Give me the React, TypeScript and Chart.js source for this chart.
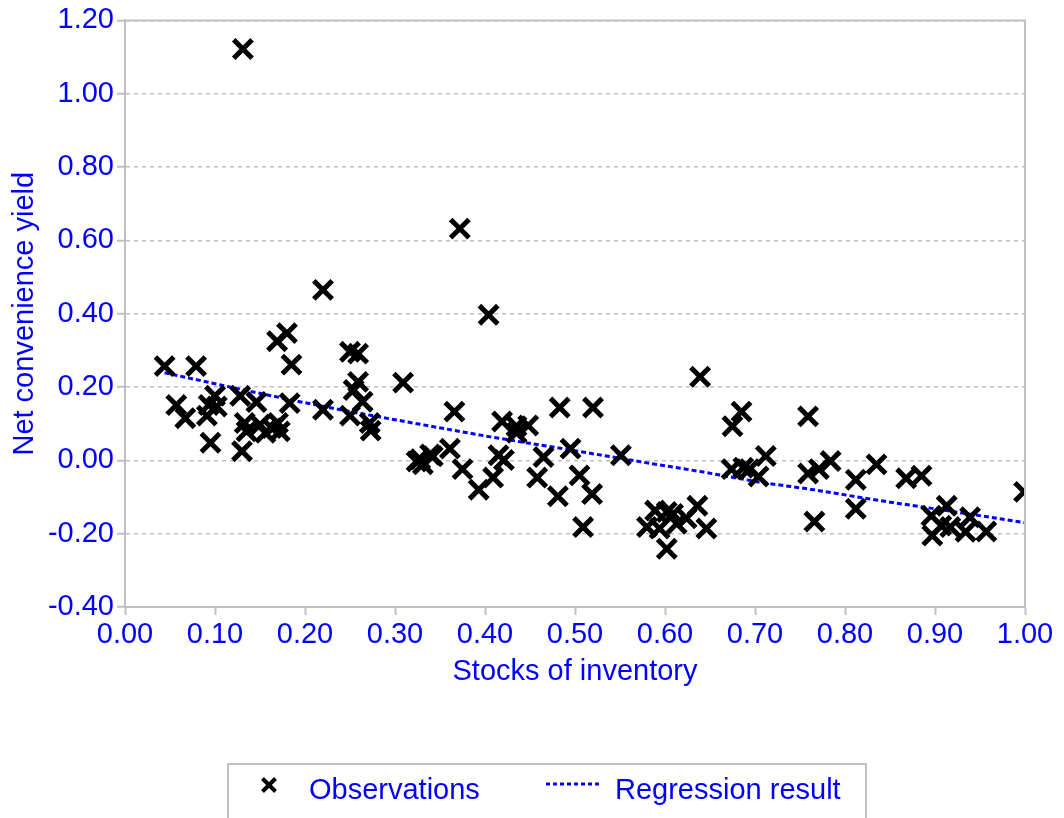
import React, { useEffect, useRef } from "react";
import { Chart, registerables } from "chart.js";

Chart.register(...registerables);

// ---------- data ----------
const obsX = [
  0.131, 0.220, 0.372, 0.404, 0.044, 0.079, 0.180, 0.169, 0.185, 0.250,
  0.259, 0.309, 0.057, 0.067, 0.100, 0.093, 0.102, 0.091, 0.095, 0.128,
  0.146, 0.130, 0.133, 0.135, 0.150, 0.156, 0.163, 0.170, 0.172, 0.183,
  0.220, 0.254, 0.259, 0.264, 0.250, 0.272, 0.273, 0.366, 0.419, 0.435,
  0.448, 0.435, 0.483, 0.520, 0.361, 0.328, 0.339, 0.331, 0.342, 0.324,
  0.375, 0.393, 0.409, 0.415, 0.421, 0.458, 0.465, 0.481, 0.495, 0.505,
  0.519, 0.509, 0.551, 0.639, 0.685, 0.675, 0.712, 0.674, 0.687, 0.694,
  0.704, 0.759, 0.759, 0.771, 0.784, 0.766, 0.812, 0.812, 0.835, 0.868,
  0.885, 0.913, 0.896, 0.897, 0.907, 0.917, 0.939, 0.934, 0.957, 0.999,
  0.589, 0.602, 0.609, 0.624, 0.636, 0.580, 0.594, 0.613, 0.646, 0.602,
];
const obsY = [
  1.122, 0.465, 0.632, 0.397, 0.257, 0.257, 0.347, 0.325, 0.261, 0.296,
  0.291, 0.212, 0.151, 0.115, 0.176, 0.151, 0.147, 0.122, 0.048, 0.176,
  0.159, 0.025, 0.102, 0.079, 0.097, 0.075, 0.088, 0.102, 0.079, 0.156,
  0.138, 0.192, 0.214, 0.160, 0.122, 0.102, 0.081, 0.133, 0.106, 0.093,
  0.095, 0.075, 0.144, 0.144, 0.032, 0.003, 0.016, -0.011, 0.011, -0.003,
  -0.024, -0.080, -0.047, 0.014, 0.001, -0.047, 0.009, -0.098, 0.032, -0.041,
  -0.092, -0.182, 0.014, 0.228, 0.133, 0.093, 0.012, -0.024, -0.020, -0.024,
  -0.044, 0.120, -0.036, -0.024, -0.002, -0.167, -0.053, -0.132, -0.011, -0.049,
  -0.042, -0.124, -0.151, -0.205, -0.178, -0.182, -0.155, -0.195, -0.194, -0.086,
  -0.137, -0.141, -0.146, -0.158, -0.124, -0.182, -0.186, -0.173, -0.186, -0.241,
];
const regX = [0.044, 0.128, 0.194, 0.25, 0.331, 0.406, 0.491, 0.583, 0.643, 0.706, 0.765, 0.839, 0.913, 1.0];
const regY = [0.239, 0.194, 0.160, 0.133, 0.097, 0.064, 0.030, -0.008, -0.032, -0.060, -0.080, -0.110, -0.137, -0.170];

const xTicks = [0, 0.1, 0.2, 0.3, 0.4, 0.5, 0.6, 0.7, 0.8, 0.9, 1.0];
const yTicks = [-0.4, -0.2, 0, 0.2, 0.4, 0.6, 0.8, 1.0, 1.2];
const seriesLabels = ["Observations", "Regression result"];
const xTitle = "Stocks of inventory";
const yTitle = "Net convenience yield";

// ---------- styles ----------
const BLUE = "#0000ff";
const GRAY = "#c0c0c0";
const FONT = "'Liberation Sans', Arial, sans-serif";
const FSIZE = 29;

const framePlugin = {
  id: "frame",
  afterDraw(chart: any) {
    const { ctx, chartArea: a } = chart;
    ctx.save();
    ctx.strokeStyle = GRAY;
    ctx.lineWidth = 2;
    ctx.beginPath();
    ctx.moveTo(a.left, a.top);
    ctx.lineTo(a.right, a.top);
    ctx.lineTo(a.right, a.bottom);
    ctx.stroke();
    ctx.restore();
  },
};

const legendPlugin = {
  id: "customLegend",
  afterDraw(chart: any) {
    const { ctx } = chart;
    ctx.save();
    // box
    ctx.strokeStyle = GRAY;
    ctx.lineWidth = 2;
    ctx.strokeRect(228, 764, 638, 80);
    // X marker
    ctx.strokeStyle = "#000";
    ctx.lineWidth = 4;
    ctx.lineCap = "butt";
    const cx = 269, cy = 785, r = 6.5;
    ctx.beginPath();
    ctx.moveTo(cx - r, cy - r);
    ctx.lineTo(cx + r, cy + r);
    ctx.moveTo(cx + r, cy - r);
    ctx.lineTo(cx - r, cy + r);
    ctx.stroke();
    // dotted line
    ctx.strokeStyle = BLUE;
    ctx.lineWidth = 3;
    ctx.setLineDash([4, 3]);
    ctx.beginPath();
    ctx.moveTo(546, 784);
    ctx.lineTo(600, 784);
    ctx.stroke();
    ctx.setLineDash([]);
    // texts
    ctx.fillStyle = BLUE;
    ctx.font = `${FSIZE}px ${FONT}`;
    ctx.textBaseline = "alphabetic";
    ctx.textAlign = "left";
    ctx.fillText(seriesLabels[0], 309, 799);
    ctx.fillText(seriesLabels[1], 615, 799);
    ctx.restore();
  },
};

export default function App() {
  const ref = useRef<HTMLCanvasElement | null>(null);

  useEffect(() => {
    if (!ref.current) return;
    const obs = obsX.map((x, i) => ({ x, y: obsY[i] }));
    const reg = regX.map((x, i) => ({ x, y: regY[i] }));
    const chart = new Chart(ref.current, {
      type: "scatter",
      data: {
        datasets: [
          {
            label: seriesLabels[0],
            data: obs,
            pointStyle: "crossRot",
            pointRadius: 13,
            pointBorderWidth: 5,
            borderColor: "#000",
            backgroundColor: "#000",
            showLine: false,
            order: 1,
          } as any,
          {
            label: seriesLabels[1],
            data: reg,
            showLine: true,
            pointRadius: 0,
            borderColor: BLUE,
            borderWidth: 3,
            borderDash: [5, 3],
            fill: false,
            order: 2,
          } as any,
        ],
      },
      options: {
        responsive: false,
        animation: false,
        events: [],
        layout: { padding: { top: 17, right: 39, left: 0, bottom: 125 } },
        plugins: {
          legend: { display: false },
          tooltip: { enabled: false },
        },
        scales: {
          x: {
            type: "linear",
            min: 0,
            max: 1,
            afterBuildTicks: (s: any) => {
              s.ticks = xTicks.map((v) => ({ value: v }));
            },
            afterFit: (s: any) => {
              s.height = 86;
            },
            ticks: {
              color: BLUE,
              font: { family: FONT, size: FSIZE },
              padding: 3,
              maxRotation: 0,
              autoSkip: false,
              callback: (v: any) => Number(v).toFixed(2),
            },
            grid: {
              drawOnChartArea: false,
              drawTicks: true,
              tickLength: 8,
              tickColor: GRAY,
              tickWidth: 2,
            },
            border: { display: true, color: GRAY, width: 2 },
            title: {
              display: true,
              text: xTitle,
              color: BLUE,
              font: { family: FONT, size: FSIZE },
              padding: { top: 0, bottom: 4 },
            },
          },
          y: {
            type: "linear",
            min: -0.4,
            max: 1.2,
            afterBuildTicks: (s: any) => {
              s.ticks = yTicks.map((v) => ({ value: v }));
            },
            afterFit: (s: any) => {
              s.width = 125;
            },
            ticks: {
              color: BLUE,
              font: { family: FONT, size: FSIZE },
              padding: 3,
              autoSkip: false,
              callback: (v: any) => Number(v).toFixed(2),
            },
            grid: {
              drawOnChartArea: true,
              drawTicks: true,
              tickLength: 8,
              color: GRAY,
              lineWidth: 1.5,
              tickColor: GRAY,
              tickWidth: 2,
            },
            border: { display: true, color: GRAY, width: 2, dash: [4, 4] },
            title: {
              display: true,
              text: yTitle,
              color: BLUE,
              font: { family: FONT, size: FSIZE },
              padding: { top: 8, bottom: 0 },
            },
          },
        },
      },
      plugins: [framePlugin, legendPlugin],
    } as any);
    return () => chart.destroy();
  }, []);

  return (
    <div style={{ position: "absolute", left: 0, top: 0, width: 1064, height: 818, background: "#fff" }}>
      <canvas ref={ref} width={1064} height={818} />
    </div>
  );
}
